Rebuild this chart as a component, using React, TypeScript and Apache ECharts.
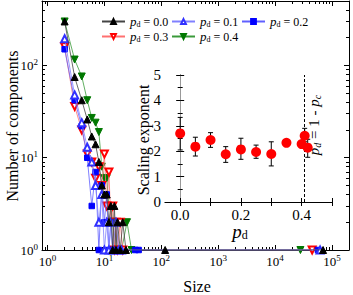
import React, { useEffect, useRef } from 'react';
import * as echarts from 'echarts';

const FONT = "'Liberation Serif', 'Times New Roman', serif";

// ---- main plot data: component size distributions ----
const pd00Sizes = [2, 3, 4, 5, 6, 7, 8, 9, 10, 11, 12, 13, 14, 15, 16, 17, 19, 21, 24, 117, 70000];
const pd00Counts = [300, 75, 42, 26, 17, 14, 9, 5, 4, 4, 2, 3, 1, 3, 1, 2, 1, 2, 1, 1, 1];
const pd01Sizes = [2, 3, 4, 5, 6, 7, 8, 9, 10, 11, 12, 13, 14, 16, 18, 20, 62000];
const pd01Counts = [195, 48, 24, 13, 9, 5, 2, 4, 1, 2, 1, 2, 1, 2, 1, 1, 1];
const pd02Sizes = [2, 3, 4, 5, 6, 7, 8, 9, 10, 11, 12, 13, 14, 16, 35, 40, 57000];
const pd02Counts = [150, 42, 22, 10, 3, 7, 1, 5, 2, 4, 1, 2, 1, 1, 1, 1, 1];
const pd03Sizes = [2, 3, 4, 5, 6, 7, 8, 9, 10, 11, 12, 13, 14, 15, 16, 17, 19, 21, 45000];
const pd03Counts = [160, 36, 20, 11, 9, 6, 8, 5, 11, 3, 7, 2, 3, 1, 2, 1, 2, 1, 1];
const pd04Sizes = [2, 3, 4, 5, 6, 7, 8, 9, 10, 11, 12, 13, 14, 15, 16, 17, 18, 20, 25, 30, 28000];
const pd04Counts = [300, 116, 76, 42, 27, 24, 19, 8, 6, 6, 3, 3, 2, 1, 2, 1, 1, 1, 2, 1, 1];

const seriesNames = ['0.0', '0.1', '0.2', '0.3', '0.4'];

// ---- inset data: scaling exponent vs p_d ----
const pdValues = [0, 0.05, 0.1, 0.15, 0.2, 0.25, 0.3, 0.35, 0.4, 0.41, 0.42];
const exponent = [2.7, 2.18, 2.44, 1.88, 2.07, 1.97, 1.89, 2.33, 2.28, 2.61, 2.14];
const errLow = [2.05, 1.81, 2.15, 1.56, 1.68, 1.72, 1.42, 2.27, 2.15, 2.37, 1.76];
const errHigh = [3.33, 2.55, 2.73, 2.18, 2.51, 2.24, 2.37, 2.4, 2.4, 2.9, 2.47];
const criticalPd = 0.41;

// tick labels
const xMajor = [1, 10, 100, 1000, 10000, 100000];
const yMajor = [1, 10, 100];
const insetXTicks = [0, 0.1, 0.2, 0.3, 0.4, 0.5];
const insetXLabels = [0, 0.2, 0.4];

function minorLog(lo: number, hi: number): number[] {
  const out: number[] = [];
  for (let d = -1; d <= 6; d++) {
    for (let k = 2; k <= 9; k++) {
      const v = k * Math.pow(10, d);
      if (v > lo && v < hi) out.push(v);
    }
  }
  return out;
}

const zip = (a: number[], b: number[]) => a.map((v, i) => [v, b[i]]);

export default function App() {
  const ref = useRef<HTMLDivElement>(null);
  useEffect(() => {
    document.body.style.margin = '0';
    if (!ref.current) return;
    const chart = echarts.init(ref.current, undefined, { renderer: 'svg' });

    const X_MIN = 0.8, X_MAX = 200000, Y_MIN = 1, Y_MAX = 500;
    const xMinor = minorLog(X_MIN, X_MAX);
    const yMinor = minorLog(Y_MIN, Y_MAX);

    const supRich = {
      b: { fontSize: 13, fontFamily: FONT, color: '#000', lineHeight: 16 },
      s: { fontSize: 9, fontFamily: FONT, color: '#000', lineHeight: 10, verticalAlign: 'top' },
    };
    const powFmt = (v: number) => `{b|10}{s|${Math.round(Math.log10(v))}}`;

    const logX = (extra: any) => ({
      type: 'log', gridIndex: 0, min: X_MIN, max: X_MAX, logBase: 10,
      splitLine: { show: false }, ...extra,
    });
    const logY = (extra: any) => ({
      type: 'log', gridIndex: 0, min: Y_MIN, max: Y_MAX, logBase: 10,
      splitLine: { show: false }, ...extra,
    });
    const black = { color: '#000', width: 1 };

    const legendRich = {
      i: { fontStyle: 'italic', fontSize: 13, fontFamily: FONT, color: '#000', lineHeight: 14 },
      s: { fontSize: 8, fontFamily: FONT, color: '#000', lineHeight: 8, verticalAlign: 'bottom' },
      n: { fontSize: 12, fontFamily: FONT, color: '#000', lineHeight: 14 },
    };
    const legendPos = [[101, 15], [171, 15], [241, 15], [101, 30], [171, 30]];

    const styles = [
      { sym: 'triangle', rot: 0, color: '#000000', line: '#444444', size: 7 },
      { sym: 'emptyTriangle', rot: 0, color: '#3030ff', line: '#8080ff', size: 7 },
      { sym: 'rect', rot: 0, color: '#0000ff', line: '#6060ff', size: 5.5 },
      { sym: 'emptyTriangle', rot: 180, color: '#ff0000', line: '#ff7070', size: 7 },
      { sym: 'triangle', rot: 180, color: '#007800', line: '#3a9a3a', size: 7 },
    ];
    const datas = [
      zip(pd00Sizes, pd00Counts), zip(pd01Sizes, pd01Counts), zip(pd02Sizes, pd02Counts),
      zip(pd03Sizes, pd03Counts), zip(pd04Sizes, pd04Counts),
    ];
    const lineSeries = datas.map((d, i) => ({
      type: 'line', name: seriesNames[i], xAxisIndex: 0, yAxisIndex: 0, data: d,
      symbol: styles[i].sym, symbolRotate: styles[i].rot, symbolSize: styles[i].size,
      showAllSymbol: true,
      lineStyle: { color: styles[i].line, width: 0.8 },
      itemStyle: { color: styles[i].color, borderColor: styles[i].color, borderWidth: 1 },
      z: 2 + (4 - i),
    }));

    const errData = pdValues.map((p, i) => [p, exponent[i], errLow[i], errHigh[i]]);

    const insetLabel = { fontSize: 15, fontFamily: FONT, color: '#000' };

    chart.setOption({
      animation: false,
      backgroundColor: '#fff',
      grid: [
        { left: 42, right: 4, top: 1, bottom: 45 },
        { left: 165, top: 75, width: 167, height: 127 },
      ],
      xAxis: [
        logX({ position: 'bottom', axisLine: { lineStyle: black },
          axisTick: { inside: true, length: 5, customValues: xMajor, lineStyle: black },
          axisLabel: { customValues: xMajor, formatter: powFmt, rich: supRich, margin: 3 } }),
        logX({ position: 'bottom', axisLine: { show: false },
          axisTick: { inside: true, length: 3, customValues: xMinor, lineStyle: black },
          axisLabel: { show: false } }),
        logX({ position: 'top', axisLine: { lineStyle: black },
          axisTick: { inside: true, length: 5, customValues: xMajor, lineStyle: black },
          axisLabel: { show: false } }),
        logX({ position: 'top', axisLine: { show: false },
          axisTick: { inside: true, length: 3, customValues: xMinor, lineStyle: black },
          axisLabel: { show: false } }),
        { type: 'value', gridIndex: 1, min: -0.05, max: 0.5, position: 'bottom',
          splitLine: { show: false }, axisLine: { lineStyle: { color: '#999', width: 1 } },
          axisTick: { inside: true, length: 4, customValues: insetXTicks, lineStyle: black },
          axisLabel: { customValues: insetXLabels, formatter: (v: number) => v.toFixed(1), margin: 5, ...insetLabel } },
        { type: 'value', gridIndex: 1, min: -0.05, max: 0.5, position: 'top',
          splitLine: { show: false }, axisLine: { lineStyle: black },
          axisTick: { inside: true, length: 4, customValues: insetXTicks, lineStyle: black },
          axisLabel: { show: false } },
      ],
      yAxis: [
        logY({ position: 'left', axisLine: { lineStyle: black },
          axisTick: { inside: true, length: 5, customValues: yMajor, lineStyle: black },
          axisLabel: { customValues: yMajor, formatter: powFmt, rich: supRich, margin: 4 } }),
        logY({ position: 'left', axisLine: { show: false },
          axisTick: { inside: true, length: 3, customValues: yMinor, lineStyle: black },
          axisLabel: { show: false } }),
        logY({ position: 'right', axisLine: { lineStyle: black },
          axisTick: { inside: true, length: 5, customValues: yMajor, lineStyle: black },
          axisLabel: { show: false } }),
        logY({ position: 'right', axisLine: { show: false },
          axisTick: { inside: true, length: 3, customValues: yMinor, lineStyle: black },
          axisLabel: { show: false } }),
        { type: 'value', gridIndex: 1, min: 0, max: 5, interval: 1, position: 'left',
          splitLine: { show: false }, axisLine: { lineStyle: black },
          axisTick: { inside: true, length: 4, lineStyle: black },
          minorTick: { show: true, splitNumber: 2, length: 2.5, lineStyle: black },
          axisLabel: { margin: 4, ...insetLabel } },
        { type: 'value', gridIndex: 1, min: 0, max: 5, interval: 1, position: 'right',
          splitLine: { show: false }, axisLine: { lineStyle: { color: '#999', width: 1 } },
          axisTick: { inside: true, length: 4, lineStyle: black },
          minorTick: { show: true, splitNumber: 2, length: 2.5, lineStyle: black },
          axisLabel: { show: false } },
      ],
      legend: legendPos.map((p, i) => ({
        data: [seriesNames[i]], left: p[0], top: p[1], padding: 0,
        itemWidth: 23, itemHeight: 6, itemGap: 0,
        formatter: (n: string) => `{i|p}{s|d}{n| = ${n}}`,
        textStyle: { rich: legendRich, fontFamily: FONT },
      })),
      series: [
        ...lineSeries,
        {
          type: 'custom', xAxisIndex: 4, yAxisIndex: 4, data: errData,
          encode: { x: 0, y: 1 }, z: 5,
          renderItem: (params: any, api: any) => {
            const x = api.value(0);
            const lo = api.coord([x, api.value(2)]);
            const hi = api.coord([x, api.value(3)]);
            const w = 2.5;
            const st = { stroke: '#000', lineWidth: 1 };
            return {
              type: 'group',
              children: [
                { type: 'line', shape: { x1: lo[0], y1: lo[1], x2: hi[0], y2: hi[1] }, style: st },
                { type: 'line', shape: { x1: lo[0] - w, y1: lo[1], x2: lo[0] + w, y2: lo[1] }, style: st },
                { type: 'line', shape: { x1: hi[0] - w, y1: hi[1], x2: hi[0] + w, y2: hi[1] }, style: st },
              ],
            };
          },
        },
        {
          type: 'scatter', xAxisIndex: 4, yAxisIndex: 4, z: 6,
          data: zip(pdValues, exponent), symbolSize: 10,
          itemStyle: { color: '#ff0000', opacity: 1 },
          markLine: {
            silent: true, symbol: ['none', 'none'], label: { show: false },
            lineStyle: { type: [3, 2], color: '#000', width: 1 },
            data: [{ xAxis: criticalPd }],
          },
        },
      ],
      graphic: [
        { type: 'text', x: 12, y: 126, rotation: Math.PI / 2,
          style: { text: 'Number of components', fontSize: 16, fontFamily: FONT, fill: '#000', align: 'center', verticalAlign: 'middle' } },
        { type: 'text', x: 197, y: 286,
          style: { text: 'Size', fontSize: 16, fontFamily: FONT, fill: '#000', align: 'center', verticalAlign: 'middle' } },
        { type: 'text', x: 143, y: 140, rotation: Math.PI / 2,
          style: { text: 'Scaling exponent', fontSize: 16, fontFamily: FONT, fill: '#000', align: 'center', verticalAlign: 'middle' } },
        { type: 'text', x: 240, y: 231,
          style: { text: '{i|p}{s|d}', align: 'center', verticalAlign: 'middle',
            rich: {
              i: { fontStyle: 'italic', fontSize: 19, fontFamily: FONT, fill: '#000', lineHeight: 20 },
              s: { fontSize: 12, fontFamily: FONT, fill: '#000', lineHeight: 12, verticalAlign: 'bottom' },
            } } },
        { type: 'text', x: 314, y: 125, rotation: Math.PI / 2,
          style: { text: '{i|p}{s|d}{n| = 1 - }{i|p}{s|c}', align: 'center', verticalAlign: 'middle',
            rich: {
              i: { fontStyle: 'italic', fontSize: 15, fontFamily: FONT, fill: '#000', lineHeight: 16 },
              s: { fontStyle: 'italic', fontSize: 10, fontFamily: FONT, fill: '#000', lineHeight: 10, verticalAlign: 'bottom' },
              n: { fontSize: 15, fontFamily: FONT, fill: '#000', lineHeight: 16 },
            } } },
      ],
    });
    return () => chart.dispose();
  }, []);
  return <div ref={ref} style={{ width: 353, height: 295 }} />;
}
